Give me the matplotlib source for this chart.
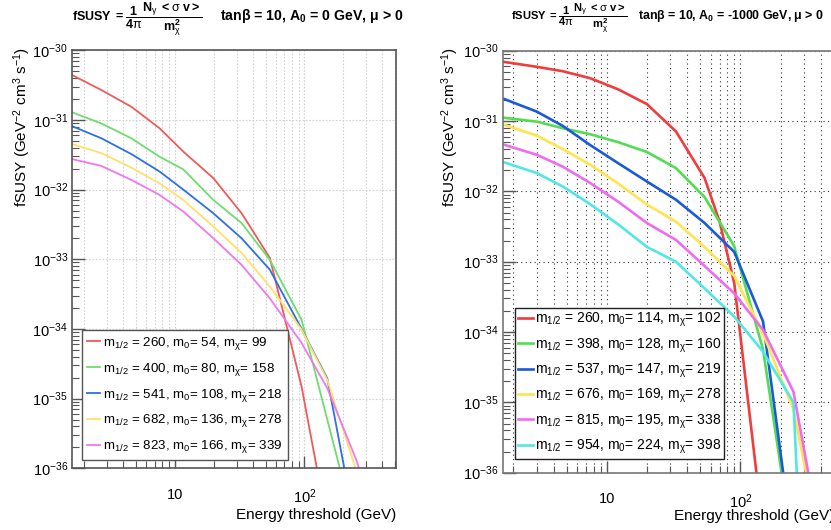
import numpy as np
import matplotlib
matplotlib.use("Agg")
import matplotlib.pyplot as plt
from matplotlib.ticker import FixedLocator, FixedFormatter, LogLocator, NullFormatter

plt.rcParams['font.family'] = ['Liberation Sans', 'DejaVu Sans']
plt.rcParams['mathtext.fontset'] = 'custom'
plt.rcParams['mathtext.rm'] = 'Liberation Sans'
plt.rcParams['mathtext.it'] = 'Liberation Sans:italic'
plt.rcParams['mathtext.bf'] = 'Liberation Sans:bold'
plt.rcParams['mathtext.default'] = 'regular'

# ---------------- data: left panel (tan beta = 10, A0 = 0 GeV) ----------------
energy_left = [1.6, 2.7, 4.6, 7.6, 11.6, 19.8, 32.7, 54, 95, 150, 250, 400]
left_red = [4.43e-31, 2.69e-31, 1.55e-31, 7.6e-32, 3.51e-32, 1.46e-32, 4.57e-33, 1.05e-33, 1.48e-35, 1.6e-37]
left_green = [1.29e-31, 8.9e-32, 5.46e-32, 2.97e-32, 1.95e-32, 7.1e-33, 3.31e-33, 9.8e-34, 1.35e-34, 5.0e-36, 1.26e-37]
left_blue = [8.17e-32, 5.46e-32, 3.24e-32, 1.82e-32, 1.0e-32, 4.57e-33, 2.0e-33, 7.1e-34, 1.0e-34, 1.95e-35, 1.3e-37]
left_yellow = [4.52e-32, 3.33e-32, 2.07e-32, 1.23e-32, 7.08e-33, 2.95e-33, 1.23e-33, 4.07e-34, 9.8e-35, 1.86e-35, 9.5e-37, 3.2e-38]
left_magenta = [2.75e-32, 2.19e-32, 1.38e-32, 8.4e-33, 4.84e-33, 2.0e-33, 8.3e-34, 2.75e-34, 6.3e-35, 1.41e-35, 1.35e-36, 1.0e-37]
left_labels = [
    r'm$_{1/2}$ = 260, m$_{0}$= 54, m$_{\chi}$= 99',
    r'm$_{1/2}$ = 400, m$_{0}$= 80, m$_{\chi}$= 158',
    r'm$_{1/2}$ = 541, m$_{0}$= 108, m$_{\chi}$= 218',
    r'm$_{1/2}$ = 682, m$_{0}$= 136, m$_{\chi}$= 278',
    r'm$_{1/2}$ = 823, m$_{0}$= 166, m$_{\chi}$= 339',
]

# ---------------- data: right panel (tan beta = 10, A0 = -1000 GeV) ----------------
energy_right = [1.66, 3.0, 4.7, 7.5, 12.2, 20, 33, 54, 90, 148, 250]
right_red_e = [1.66, 3.0, 4.7, 7.5, 12.2, 20, 33, 54, 70, 90, 150]
right_red = [6.98e-31, 5.9e-31, 5.1e-31, 4.07e-31, 2.82e-31, 1.74e-31, 7.1e-32, 1.55e-32, 3.7e-33, 5.0e-34, 1.26e-37]
right_green = [1.12e-31, 9.8e-32, 7.9e-32, 6.5e-32, 5.0e-32, 3.63e-32, 2.14e-32, 8.3e-33, 1.66e-33, 5.6e-35, 7.6e-38]
right_blue = [2.1e-31, 1.36e-31, 8.5e-32, 4.57e-32, 2.51e-32, 1.38e-32, 7.6e-33, 3.55e-33, 1.38e-33, 1.41e-34, 7.9e-38]
right_yellow_e = [1.66, 3.0, 4.7, 7.5, 12.2, 20, 33, 54, 90, 148, 250, 350]
right_yellow = [9.0e-32, 6.2e-32, 3.98e-32, 2.4e-32, 1.29e-32, 6.5e-33, 3.7e-33, 1.62e-33, 6.3e-34, 9.5e-35, 7.9e-36, 3.2e-37]
right_magenta_e = [1.66, 3.0, 4.7, 7.5, 12.2, 20, 33, 54, 90, 148, 250, 360]
right_magenta = [4.68e-32, 3.31e-32, 2.24e-32, 1.32e-32, 7.1e-33, 3.55e-33, 2.04e-33, 8.7e-34, 3.55e-34, 1.07e-34, 1.41e-35, 3.2e-37]
right_cyan_e = [1.66, 3.0, 4.7, 7.5, 12.2, 20, 33, 54, 90, 148, 250, 280]
right_cyan = [2.63e-32, 1.82e-32, 1.17e-32, 6.6e-33, 3.39e-33, 1.62e-33, 1.0e-33, 4.17e-34, 1.66e-34, 5.25e-35, 1.0e-35, 1.0e-37]
right_labels = [
    r'm$_{1/2}$ = 260, m$_{0}$= 114, m$_{\chi}$= 102',
    r'm$_{1/2}$ = 398, m$_{0}$= 128, m$_{\chi}$= 160',
    r'm$_{1/2}$ = 537, m$_{0}$= 147, m$_{\chi}$= 219',
    r'm$_{1/2}$ = 676, m$_{0}$= 169, m$_{\chi}$= 278',
    r'm$_{1/2}$ = 815, m$_{0}$= 195, m$_{\chi}$= 338',
    r'm$_{1/2}$ = 954, m$_{0}$= 224, m$_{\chi}$= 398',
]

ytick_vals = [1e-36, 1e-35, 1e-34, 1e-33, 1e-32, 1e-31, 1e-30]
ytick_labels = [r'$10^{-36}$', r'$10^{-35}$', r'$10^{-34}$', r'$10^{-33}$', r'$10^{-32}$', r'$10^{-31}$', r'$10^{-30}$']
xtick_vals = [10, 100]
xtick_labels = ['10', r'$10^{2}$']

left_colors = ['#ee5a5a', '#6fdc6f', '#2f6fe0', '#ffe16a', '#ee78ee']
right_colors = ['#f03c3c', '#52dc52', '#1a5ad8', '#ffe450', '#ee6cee', '#52e6e6']

W, H = 831, 530
fig = plt.figure(figsize=(W / 100, H / 100), dpi=100)


def px_axes(x0, x1, ytop, ybot):
    return fig.add_axes([x0 / W, 1 - ybot / H, (x1 - x0) / W, (ybot - ytop) / H])


def style_axes(ax, xlim, grid_color, grid_ls, spine_color):
    ax.set_xscale('log')
    ax.set_yscale('log')
    ax.set_xlim(*xlim)
    ax.set_ylim(1e-36, 1e-30)
    ax.yaxis.set_major_locator(FixedLocator(ytick_vals))
    ax.yaxis.set_major_formatter(FixedFormatter(ytick_labels))
    ax.yaxis.set_minor_locator(LogLocator(base=10, subs=np.arange(2, 10), numticks=50))
    ax.yaxis.set_minor_formatter(NullFormatter())
    ax.xaxis.set_major_locator(FixedLocator(xtick_vals))
    ax.xaxis.set_major_formatter(FixedFormatter(xtick_labels))
    ax.xaxis.set_minor_locator(LogLocator(base=10, subs=np.arange(2, 10), numticks=50))
    ax.xaxis.set_minor_formatter(NullFormatter())
    ax.tick_params(which='both', direction='in', top=False, right=False,
                   labelsize=10.5, color='#555555')
    ax.tick_params(which='major', length=9, width=1.0)
    ax.tick_params(which='minor', length=5, width=0.8)
    ax.tick_params(axis='y', pad=3)
    ax.tick_params(axis='x', pad=14)
    ax.grid(True, which='major', axis='y', color=grid_color, ls=grid_ls, lw=0.8)
    ax.grid(True, which='both', axis='x', color=grid_color, ls=grid_ls, lw=0.8)
    for s in ax.spines.values():
        s.set_color(spine_color)
        s.set_linewidth(1.2)


# ---------------- left panel ----------------
axL = px_axes(72, 396, 50.3, 468.3)
style_axes(axL, (1.602, 509), '#d2d2d2', (0, (1.5, 1.5)), '#555555')
left_series = [left_red, left_green, left_blue, left_yellow, left_magenta]
for vals, col, lab in zip(left_series, left_colors, left_labels):
    axL.plot(energy_left[:len(vals)], vals, color=col, lw=1.3, label=lab)
legL = axL.legend(loc='lower left', bbox_to_anchor=(0.031, 0.02), borderaxespad=0,
                  fontsize=9.6, frameon=True, fancybox=False, handlelength=1.0,
                  handletextpad=0.25, labelspacing=0.66, borderpad=0.35)
legL.get_frame().set_edgecolor('#555555')
legL.get_frame().set_linewidth(1.0)
legL.get_frame().set_alpha(1)

fig.text(22 / W, 1 - 47 / H, r'fSUSY (GeV$^{-2}$ cm$^{3}$ s$^{-1}$)', rotation=90,
         ha='center', va='top', fontsize=11)
fig.text(396 / W, 1 - 515 / H, 'Energy threshold (GeV)', ha='right', va='center', fontsize=11)

# ---------------- right panel ----------------
axR = px_axes(502.7, 833.7, 50.7, 472.7)
style_axes(axR, (1.665, 500), '#333333', (0, (1, 3)), '#777777')
right_series = [(right_red_e, right_red), (energy_right, right_green), (energy_right, right_blue),
                (right_yellow_e, right_yellow), (right_magenta_e, right_magenta),
                (right_cyan_e, right_cyan)]
for (e, vals), col, lab in zip(right_series, right_colors, right_labels):
    axR.plot(e, vals, color=col, lw=1.9, label=lab)
legR = axR.legend(loc='lower left', bbox_to_anchor=(0.037, 0.032), borderaxespad=0,
                  fontsize=10, frameon=True, fancybox=False, handlelength=1.05,
                  handletextpad=0.15, labelspacing=0.51, borderpad=0.22)
legR.get_frame().set_edgecolor('#222222')
legR.get_frame().set_linewidth(1.0)
legR.get_frame().set_alpha(1)

fig.text(450 / W, 1 - 47 / H, r'fSUSY (GeV$^{-2}$ cm$^{3}$ s$^{-1}$)', rotation=90,
         ha='center', va='top', fontsize=11)
fig.text(834 / W, 1 - 516 / H, 'Energy threshold (GeV)', ha='right', va='center', fontsize=11)

# ---------------- titles ----------------
formula = (r'$\mathbf{fSUSY\ =}\dfrac{\mathbf{1}}{\mathbf{4}\pi}'
           r'\dfrac{\mathbf{N}_{\gamma}\ \mathbf{<}\sigma\ \mathbf{v>}}{\mathbf{m}_{\chi}^{\mathbf{2}}}$')
fig.text(72 / W, 1 - 19 / H, formula, ha='left', va='center', fontsize=9)
fig.text(220 / W, 1 - 16 / H, r'tan$\beta$ = 10, A$_{0}$ = 0 GeV, $\mu$ > 0',
         ha='left', va='center', fontsize=10.2, fontweight='bold')
fig.text(511 / W, 1 - 19 / H, formula, ha='left', va='center', fontsize=8)
fig.text(638 / W, 1 - 16 / H, r'tan$\beta$ = 10, A$_{0}$ = -1000 GeV, $\mu$ > 0',
         ha='left', va='center', fontsize=8.9, fontweight='bold')

fig.savefig('out.png', dpi=100)
